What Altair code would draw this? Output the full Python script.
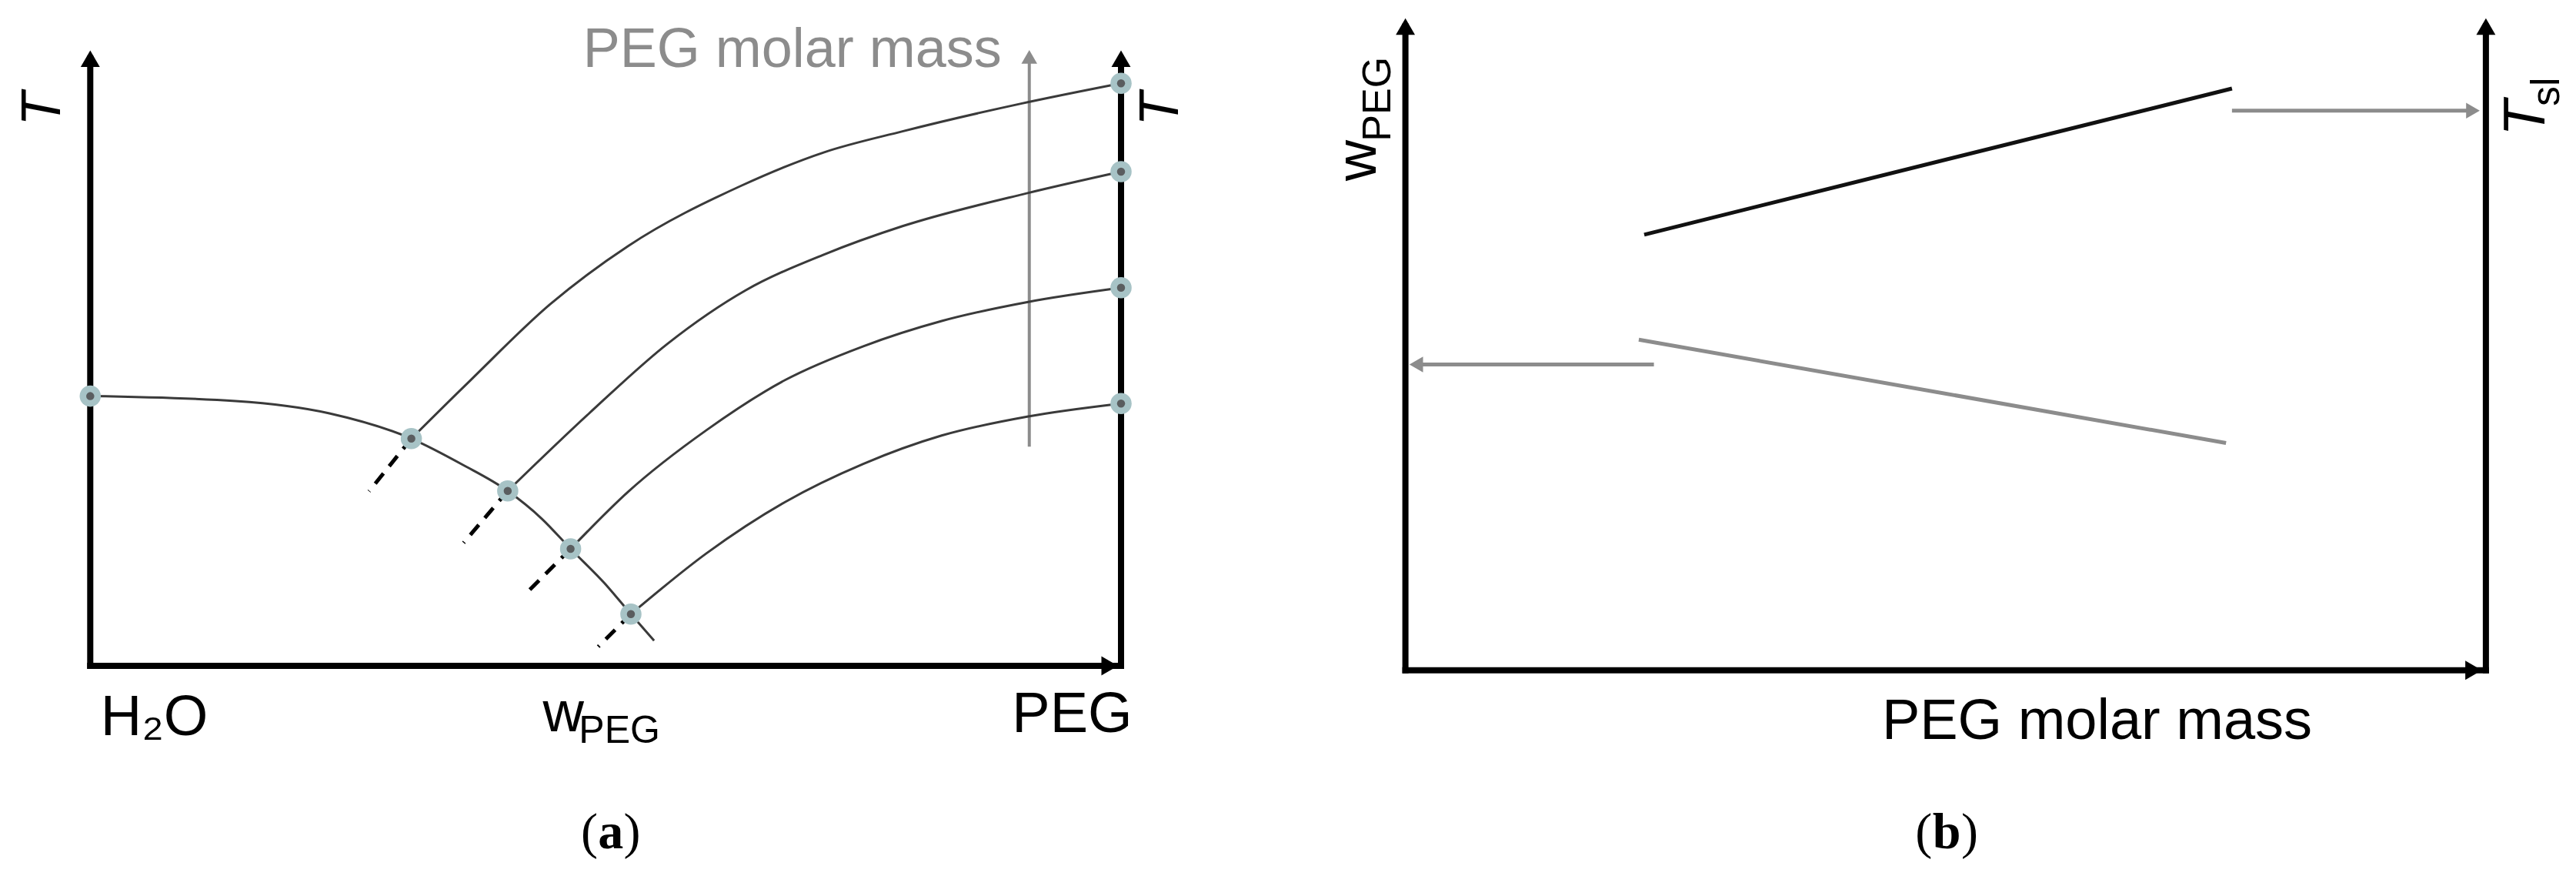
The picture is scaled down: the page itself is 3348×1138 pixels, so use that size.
import altair as alt
import pandas as pd

# ---------------- Panel (a): schematic phase diagram ----------------
# liquidus of water (left branch), with the four eutectic points on it
liq_x = [0, 14.1, 23.2, 31.15, 36.2, 40.5, 43.8, 46.6, 49.9, 52.45, 54.7]
liq_y = [43.8, 43.0, 41.0, 36.9, 32.6, 28.4, 23.9, 19.0, 13.4, 8.4, 4.1]

# PEG liquidus branches (increasing PEG molar mass from c4 to c1)
c1_x = [31.15, 36.9, 44.6, 52.2, 63.2, 71.2, 78.8, 90.3, 100]
c1_y = [36.9, 46.4, 58.7, 68.2, 78.0, 83.4, 86.8, 91.3, 94.6]
c2_x = [40.5, 48.4, 56.0, 63.6, 71.2, 78.8, 91.0, 100]
c2_y = [28.4, 41.0, 52.3, 61.0, 66.8, 71.4, 76.8, 80.25]
c3_x = [46.6, 52.2, 59.8, 67.4, 75.0, 82.6, 91.0, 100]
c3_y = [19.0, 28.3, 38.3, 46.4, 51.9, 56.0, 59.1, 61.4]
c4_x = [52.45, 59.8, 67.4, 75.0, 82.6, 91.0, 100]
c4_y = [8.4, 18.3, 26.6, 32.8, 37.4, 40.5, 42.6]

# dashed (metastable) extensions below the eutectics
dash_x0 = [31.15, 40.5, 46.6, 52.45]
dash_y0 = [36.9, 28.4, 19.0, 8.4]
dash_x1 = [27.05, 36.22, 42.12, 49.28]
dash_y1 = [28.34, 19.98, 11.49, 3.12]

# marked points: melting points and eutectics
pt_x = [0, 31.15, 40.5, 46.6, 52.45, 100, 100, 100, 100]
pt_y = [43.8, 36.9, 28.4, 19.0, 8.4, 94.6, 80.25, 61.4, 42.6]

# grey "PEG molar mass" arrow in (a)
arr_a_x = [91.1]
arr_a_y0 = [35.6]
arr_a_y1 = [98.9]

# ---------------- Panel (b) ----------------
black_x = [22.1, 76.5]
black_y = [66.8, 89.2]
gray_x = [21.6, 75.95]
gray_y = [50.7, 34.85]
arr_left = {"x0": 23.0, "x1": 1.0, "y": 46.9}
arr_right = {"x0": 76.5, "x1": 98.8, "y": 85.8}

# ---------------- scales (data units, 0..100 between the axes) ----------------
DOM_AX = [-8.158, 115.153]
DOM_AY = [-33.125, 107.125]
DOM_BX = [-11.864, 107.77]
DOM_BY = [-30.59, 101.83]

SANS = "Liberation Sans"
SERIF = "Liberation Serif"
GREY = "#8c8c8c"


def X(field, dom):
    return alt.X(f"{field}:Q", scale=alt.Scale(domain=dom, nice=False, zero=False), axis=None)


def Y(field, dom):
    return alt.Y(f"{field}:Q", scale=alt.Scale(domain=dom, nice=False, zero=False), axis=None)


def seg_layer(df, dx, dy, **mk):
    return alt.Chart(df).mark_rule(**mk).encode(
        x=X("x", dx), x2=alt.X2("x2:Q"), y=Y("y", dy), y2=alt.Y2("y2:Q"))


def point_layer(df, dx, dy, **mk):
    return alt.Chart(df).mark_point(**mk).encode(x=X("x", dx), y=Y("y", dy))


def text_layer(t, x, y, dx, dy, **mk):
    df = pd.DataFrame({"x": [x], "y": [y], "t": [t]})
    return alt.Chart(df).mark_text(**mk).encode(x=X("x", dx), y=Y("y", dy), text="t:N")


def panel_tag(letter, x, y, half, dx, dy):
    common = dict(font=SERIF, fontSize=66, baseline="alphabetic", color="black")
    return [
        text_layer("(", x - half, y, dx, dy, align="right", **common),
        text_layer(letter, x, y, dx, dy, align="center", fontWeight="bold", **common),
        text_layer(")", x + half, y, dx, dy, align="left", **common),
    ]


# ---- build panel (a)
curves = []
for name, xs, ys in [("liq", liq_x, liq_y), ("c1", c1_x, c1_y), ("c2", c2_x, c2_y),
                     ("c3", c3_x, c3_y), ("c4", c4_x, c4_y)]:
    for i, (a, b) in enumerate(zip(xs, ys)):
        curves.append({"curve": name, "x": a, "y": b, "o": i})
curves_df = pd.DataFrame(curves)

a_lines = alt.Chart(curves_df).mark_line(color="#3a3a3a", strokeWidth=3, interpolate="monotone").encode(
    x=X("x", DOM_AX), y=Y("y", DOM_AY), detail="curve:N", order="o:Q")

dash_df = pd.DataFrame({"x": dash_x0, "y": dash_y0, "x2": dash_x1, "y2": dash_y1})
a_dash = seg_layer(dash_df, DOM_AX, DOM_AY, color="black", strokeWidth=5, strokeDash=[17, 12])

pts_df = pd.DataFrame({"x": pt_x, "y": pt_y})
a_halo = point_layer(pts_df, DOM_AX, DOM_AY, shape="circle", filled=True, size=760,
                     color="#a7c3c6", opacity=1)
a_core = point_layer(pts_df, DOM_AX, DOM_AY, shape="circle", filled=True, size=110,
                     color="#5a5d5f", opacity=1)

axes_a = pd.DataFrame({"x": [0, 100, 0], "x2": [0, 100, 100], "y": [0, 0, 0], "y2": [98.6, 98.6, 0]})
a_axes = seg_layer(axes_a, DOM_AX, DOM_AY, color="black", strokeWidth=8, strokeCap="square")
a_head_up = point_layer(pd.DataFrame({"x": [0, 100], "y": [98.6, 98.6]}), DOM_AX, DOM_AY,
                        shape="triangle-up", filled=True, size=620, color="black", opacity=1)
a_head_r = point_layer(pd.DataFrame({"x": [98.9], "y": [0]}), DOM_AX, DOM_AY,
                       shape="triangle-right", filled=True, size=620, color="black", opacity=1)

arr_a = pd.DataFrame({"x": arr_a_x, "x2": arr_a_x, "y": arr_a_y0, "y2": arr_a_y1})
a_arrow = seg_layer(arr_a, DOM_AX, DOM_AY, color=GREY, strokeWidth=4)
a_arrow_head = point_layer(pd.DataFrame({"x": arr_a_x, "y": arr_a_y1}), DOM_AX, DOM_AY,
                           shape="triangle-up", filled=True, size=420, color=GREY, opacity=1)

a_texts = [
    text_layer("T", -2.93, 90.4, DOM_AX, DOM_AY, font=SANS, fontSize=72, fontStyle="italic",
               angle=270, align="center", baseline="alphabetic", color="black"),
    text_layer("T", 105.5, 90.4, DOM_AX, DOM_AY, font=SANS, fontSize=72, fontStyle="italic",
               angle=270, align="center", baseline="alphabetic", color="black"),
    text_layer("H₂O", 1.0, -11.2, DOM_AX, DOM_AY, font=SANS, fontSize=74, align="left",
               baseline="alphabetic", color="black"),
    text_layer("w", 43.9, -10.6, DOM_AX, DOM_AY, font=SANS, fontSize=74, align="left",
               baseline="alphabetic", color="black"),
    text_layer("PEG", 47.4, -12.5, DOM_AX, DOM_AY, font=SANS, fontSize=50, align="left",
               baseline="alphabetic", color="black"),
    text_layer("PEG", 95.26, -10.8, DOM_AX, DOM_AY, font=SANS, fontSize=74, align="center",
               baseline="alphabetic", color="black"),
    text_layer("PEG molar mass", 47.8, 97.3, DOM_AX, DOM_AY, font=SANS, fontSize=72, align="left",
               baseline="alphabetic", color=GREY),
] + panel_tag("a", 50.5, -29.6, 1.25, DOM_AX, DOM_AY)

panel_a = alt.layer(a_axes, a_head_up, a_head_r, a_arrow, a_arrow_head, a_lines, a_dash,
                    a_halo, a_core, *a_texts).properties(width=1652, height=1122)

# ---- build panel (b)
b_black = alt.Chart(pd.DataFrame({"x": black_x, "y": black_y})).mark_line(
    color="#111111", strokeWidth=5).encode(x=X("x", DOM_BX), y=Y("y", DOM_BY))
b_gray = alt.Chart(pd.DataFrame({"x": gray_x, "y": gray_y})).mark_line(
    color=GREY, strokeWidth=5).encode(x=X("x", DOM_BX), y=Y("y", DOM_BY))

axes_b = pd.DataFrame({"x": [0, 100, 0], "x2": [0, 100, 100], "y": [0, 0, 0], "y2": [98.7, 98.7, 0]})
b_axes = seg_layer(axes_b, DOM_BX, DOM_BY, color="black", strokeWidth=8, strokeCap="square")
b_head_up = point_layer(pd.DataFrame({"x": [0, 100], "y": [98.7, 98.7]}), DOM_BX, DOM_BY,
                        shape="triangle-up", filled=True, size=620, color="black", opacity=1)
b_head_r = point_layer(pd.DataFrame({"x": [98.86], "y": [0]}), DOM_BX, DOM_BY,
                       shape="triangle-right", filled=True, size=620, color="black", opacity=1)

arr_b = pd.DataFrame({"x": [arr_left["x0"], arr_right["x0"]], "x2": [arr_left["x1"], arr_right["x1"]],
                      "y": [arr_left["y"], arr_right["y"]], "y2": [arr_left["y"], arr_right["y"]]})
b_arrows = seg_layer(arr_b, DOM_BX, DOM_BY, color=GREY, strokeWidth=5)
b_head_l = point_layer(pd.DataFrame({"x": [arr_left["x1"]], "y": [arr_left["y"]]}), DOM_BX, DOM_BY,
                       shape="triangle-left", filled=True, size=420, color=GREY, opacity=1)
b_head_r2 = point_layer(pd.DataFrame({"x": [arr_right["x1"]], "y": [arr_right["y"]]}), DOM_BX, DOM_BY,
                        shape="triangle-right", filled=True, size=420, color=GREY, opacity=1)

b_texts = [
    text_layer("w", -2.75, 75.0, DOM_BX, DOM_BY, font=SANS, fontSize=74, angle=270, align="left",
               baseline="alphabetic", color="black"),
    text_layer("PEG", -1.42, 81.1, DOM_BX, DOM_BY, font=SANS, fontSize=52, angle=270, align="left",
               baseline="alphabetic", color="black"),
    text_layer("T", 105.4, 81.9, DOM_BX, DOM_BY, font=SANS, fontSize=76, fontStyle="italic", angle=270,
               align="left", baseline="alphabetic", color="black"),
    text_layer("sl", 106.8, 86.5, DOM_BX, DOM_BY, font=SANS, fontSize=52, angle=270, align="left",
               baseline="alphabetic", color="black"),
    text_layer("PEG molar mass", 44.1, -10.5, DOM_BX, DOM_BY, font=SANS, fontSize=74, align="left",
               baseline="alphabetic", color="black"),
] + panel_tag("b", 50.1, -27.25, 1.35, DOM_BX, DOM_BY)

panel_b = alt.layer(b_axes, b_head_up, b_head_r, b_arrows, b_head_l, b_head_r2, b_black, b_gray,
                    *b_texts).properties(width=1680, height=1122)

chart = alt.hconcat(panel_a, panel_b, spacing=0, padding=0, background="white").configure_view(
    stroke=None)

chart.save("out.html", embed_options={"renderer": "svg", "actions": False})
